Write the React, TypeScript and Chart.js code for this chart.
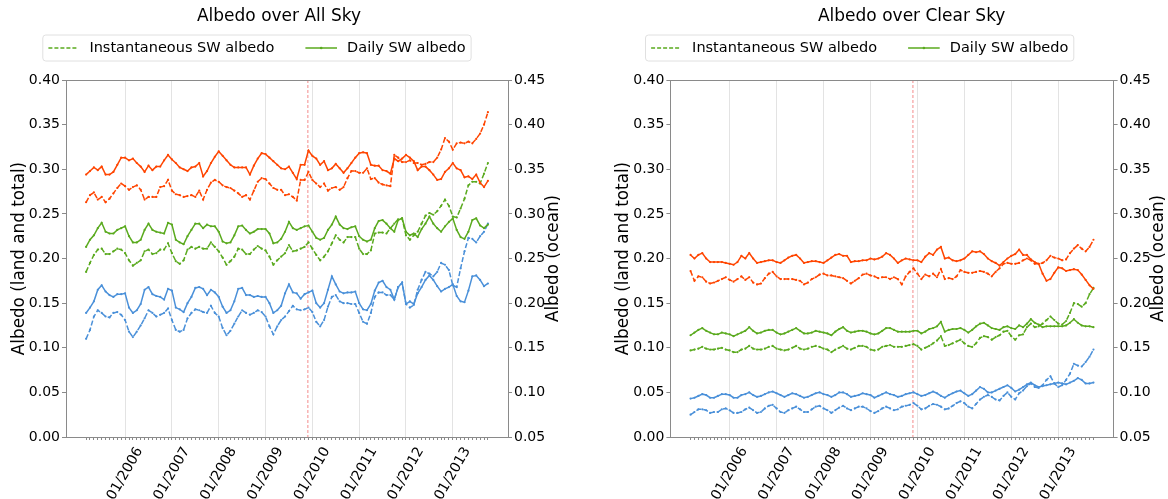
import React, { useEffect, useRef } from 'react';
import { Chart, registerables } from 'chart.js';

Chart.register(...registerables);

// ---------- DATA ----------
// Monthly samples, 03/2005 .. 10/2013
const START_YEAR = 2005;
const START_MONTH = 3;
const N_MONTHS = 104;
const months: string[] = [];
for (let k = 0; k < N_MONTHS; k++) {
  const m0 = START_MONTH - 1 + k;
  months.push(`${String((m0 % 12) + 1).padStart(2, '0')}/${START_YEAR + Math.floor(m0 / 12)}`);
}

const xTickLabels = ['01/2006', '01/2007', '01/2008', '01/2009', '01/2010', '01/2011', '01/2012', '01/2013'];
const leftTicks = [0, 0.05, 0.1, 0.15, 0.2, 0.25, 0.3, 0.35, 0.4];
const rightTicks = [0.05, 0.1, 0.15, 0.2, 0.25, 0.3, 0.35, 0.4, 0.45];
const referenceLine = 56.85; // month position (between 11/2009 and 12/2009)

const legendLabels = ['Instantaneous SW albedo', 'Daily SW albedo'];
const panelTitles = ['Albedo over All Sky', 'Albedo over Clear Sky'];
const leftAxisTitle = 'Albedo (land and total)';
const rightAxisTitle = 'Albedo (ocean)';

// All sky
const allSkyRedDaily = [
  0.294, 0.298, 0.302, 0.299, 0.303, 0.294, 0.294, 0.297, 0.305, 0.313,
  0.313, 0.310, 0.312, 0.307, 0.303, 0.297, 0.304, 0.299, 0.303, 0.303,
  0.310, 0.316, 0.311, 0.307, 0.302, 0.300, 0.298, 0.302, 0.303, 0.307,
  0.292, 0.298, 0.307, 0.314, 0.320, 0.315, 0.310, 0.305, 0.302, 0.302,
  0.302, 0.302, 0.294, 0.304, 0.312, 0.318, 0.317, 0.313, 0.309, 0.305,
  0.301, 0.300, 0.303, 0.296, 0.289, 0.305, 0.305, 0.321, 0.315, 0.312,
  0.305, 0.309, 0.299, 0.301, 0.306, 0.301, 0.296, 0.301, 0.307, 0.313,
  0.318, 0.319, 0.318, 0.305, 0.304, 0.304, 0.299, 0.298, 0.295, 0.312,
  0.309, 0.312, 0.316, 0.313, 0.309, 0.299, 0.303, 0.303, 0.299, 0.294,
  0.288, 0.289, 0.297, 0.301, 0.307, 0.301, 0.299, 0.291, 0.292, 0.289,
  0.294, 0.285, 0.280, 0.287,
];
const allSkyRedInst = [
  0.263, 0.271, 0.274, 0.266, 0.269, 0.263, 0.267, 0.273, 0.279, 0.284,
  0.281, 0.277, 0.280, 0.282, 0.277, 0.266, 0.269, 0.269, 0.269, 0.280,
  0.281, 0.288, 0.276, 0.272, 0.271, 0.269, 0.270, 0.271, 0.269, 0.276,
  0.266, 0.277, 0.285, 0.288, 0.286, 0.282, 0.280, 0.279, 0.276, 0.273,
  0.269, 0.271, 0.266, 0.276, 0.286, 0.290, 0.289, 0.284, 0.279, 0.277,
  0.277, 0.271, 0.272, 0.269, 0.265, 0.288, 0.288, 0.297, 0.288, 0.284,
  0.280, 0.284, 0.276, 0.279, 0.280, 0.277, 0.280, 0.290, 0.298, 0.298,
  0.296, 0.296, 0.301, 0.289, 0.290, 0.285, 0.283, 0.282, 0.281, 0.316,
  0.313, 0.308, 0.308, 0.310, 0.307, 0.307, 0.305, 0.306, 0.308, 0.308,
  0.313, 0.322, 0.335, 0.331, 0.322, 0.329, 0.330, 0.329, 0.331, 0.329,
  0.334, 0.340, 0.350, 0.364,
];
const allSkyGreenDaily = [
  0.213, 0.221, 0.226, 0.234, 0.240, 0.230, 0.228, 0.228, 0.232, 0.234,
  0.236, 0.225, 0.218, 0.218, 0.221, 0.232, 0.239, 0.232, 0.230, 0.229,
  0.228, 0.240, 0.238, 0.221, 0.218, 0.216, 0.225, 0.232, 0.239, 0.239,
  0.234, 0.238, 0.236, 0.236, 0.230, 0.219, 0.217, 0.218, 0.226, 0.236,
  0.237, 0.232, 0.228, 0.230, 0.233, 0.233, 0.233, 0.228, 0.217, 0.218,
  0.222, 0.230, 0.241, 0.234, 0.232, 0.234, 0.236, 0.237, 0.230, 0.223,
  0.221, 0.223, 0.232, 0.238, 0.247, 0.238, 0.234, 0.233, 0.235, 0.236,
  0.225, 0.221, 0.219, 0.221, 0.234, 0.242, 0.243, 0.239, 0.234, 0.230,
  0.243, 0.245, 0.230, 0.226, 0.228, 0.224, 0.233, 0.239, 0.247, 0.239,
  0.234, 0.230, 0.236, 0.241, 0.245, 0.232, 0.224, 0.222, 0.230, 0.243,
  0.245, 0.237, 0.234, 0.238,
];
const allSkyGreenInst = [
  0.185, 0.195, 0.204, 0.210, 0.211, 0.205, 0.205, 0.208, 0.211, 0.210,
  0.206, 0.198, 0.192, 0.195, 0.198, 0.208, 0.210, 0.205, 0.206, 0.210,
  0.210, 0.217, 0.206, 0.197, 0.194, 0.198, 0.210, 0.213, 0.211, 0.213,
  0.211, 0.211, 0.218, 0.213, 0.208, 0.201, 0.193, 0.197, 0.202, 0.211,
  0.210, 0.205, 0.205, 0.210, 0.214, 0.211, 0.209, 0.202, 0.193, 0.198,
  0.202, 0.206, 0.215, 0.208, 0.209, 0.211, 0.213, 0.218, 0.211, 0.204,
  0.198, 0.202, 0.208, 0.217, 0.226, 0.221, 0.218, 0.224, 0.224, 0.224,
  0.211, 0.205, 0.205, 0.209, 0.228, 0.229, 0.229, 0.228, 0.234, 0.239,
  0.244, 0.245, 0.226, 0.221, 0.226, 0.230, 0.239, 0.248, 0.251, 0.249,
  0.253, 0.259, 0.266, 0.259, 0.247, 0.246, 0.256, 0.267, 0.282, 0.286,
  0.286, 0.284, 0.295, 0.307,
];
const allSkyBlueDaily = [
  0.139, 0.145, 0.152, 0.165, 0.170, 0.163, 0.159, 0.157, 0.160, 0.160,
  0.161, 0.145, 0.139, 0.142, 0.149, 0.165, 0.168, 0.160, 0.158, 0.157,
  0.154, 0.166, 0.164, 0.145, 0.143, 0.140, 0.150, 0.157, 0.167, 0.168,
  0.166, 0.159, 0.165, 0.162, 0.157, 0.146, 0.139, 0.142, 0.152, 0.166,
  0.167, 0.159, 0.159, 0.157, 0.158, 0.157, 0.157, 0.150, 0.139, 0.142,
  0.147, 0.161, 0.171, 0.162, 0.161, 0.155, 0.160, 0.162, 0.164, 0.150,
  0.145, 0.150, 0.165, 0.180, 0.171, 0.163, 0.161, 0.162, 0.162, 0.163,
  0.150, 0.143, 0.142, 0.149, 0.164, 0.173, 0.175, 0.168, 0.165, 0.154,
  0.168, 0.173, 0.149, 0.152, 0.149, 0.161, 0.168, 0.176, 0.181, 0.176,
  0.169, 0.163, 0.166, 0.168, 0.171, 0.158, 0.152, 0.151, 0.164, 0.180,
  0.181, 0.176, 0.169, 0.172,
];
const allSkyBlueInst = [
  0.110, 0.120, 0.135, 0.142, 0.139, 0.135, 0.134, 0.139, 0.140, 0.137,
  0.131, 0.118, 0.112, 0.118, 0.125, 0.133, 0.142, 0.139, 0.135, 0.137,
  0.139, 0.144, 0.131, 0.120, 0.118, 0.120, 0.133, 0.139, 0.143, 0.142,
  0.140, 0.139, 0.147, 0.139, 0.135, 0.122, 0.114, 0.119, 0.127, 0.135,
  0.142, 0.139, 0.137, 0.139, 0.142, 0.140, 0.135, 0.124, 0.115, 0.124,
  0.131, 0.135, 0.141, 0.147, 0.143, 0.142, 0.143, 0.145, 0.140, 0.129,
  0.124, 0.131, 0.146, 0.157, 0.159, 0.152, 0.150, 0.150, 0.149, 0.149,
  0.139, 0.129, 0.127, 0.139, 0.157, 0.162, 0.162, 0.159, 0.159, 0.154,
  0.168, 0.173, 0.149, 0.145, 0.148, 0.165, 0.176, 0.185, 0.183, 0.180,
  0.185, 0.195, 0.193, 0.187, 0.170, 0.168, 0.189, 0.208, 0.223, 0.222,
  0.218, 0.225, 0.230, 0.239,
];

// Clear sky
const clearSkyRedDaily = [
  0.204, 0.200, 0.204, 0.206, 0.200, 0.196, 0.196, 0.196, 0.196, 0.195,
  0.194, 0.193, 0.196, 0.203, 0.200, 0.206, 0.200, 0.195, 0.196, 0.197,
  0.198, 0.198, 0.196, 0.195, 0.198, 0.201, 0.203, 0.204, 0.200, 0.195,
  0.196, 0.197, 0.197, 0.196, 0.195, 0.198, 0.201, 0.204, 0.205, 0.203,
  0.203, 0.196, 0.197, 0.197, 0.198, 0.198, 0.200, 0.199, 0.200, 0.202,
  0.206, 0.204, 0.200, 0.195, 0.198, 0.200, 0.199, 0.198, 0.198, 0.196,
  0.202, 0.206, 0.204, 0.210, 0.213, 0.200, 0.201, 0.198, 0.197, 0.198,
  0.200, 0.204, 0.208, 0.207, 0.208, 0.205, 0.200, 0.197, 0.195, 0.192,
  0.196, 0.200, 0.203, 0.205, 0.210, 0.204, 0.204, 0.199, 0.196, 0.194,
  0.183, 0.175, 0.177, 0.184, 0.190, 0.189, 0.186, 0.187, 0.188, 0.187,
  0.182, 0.176, 0.170, 0.166,
];
const clearSkyRedInst = [
  0.186, 0.175, 0.180, 0.179, 0.174, 0.172, 0.173, 0.175, 0.177, 0.179,
  0.176, 0.174, 0.177, 0.180, 0.176, 0.179, 0.173, 0.171, 0.172, 0.178,
  0.183, 0.185, 0.180, 0.177, 0.177, 0.177, 0.177, 0.176, 0.175, 0.171,
  0.173, 0.177, 0.179, 0.182, 0.183, 0.181, 0.181, 0.180, 0.179, 0.178,
  0.175, 0.172, 0.175, 0.178, 0.182, 0.183, 0.181, 0.180, 0.178, 0.179,
  0.179, 0.177, 0.179, 0.177, 0.171, 0.180, 0.185, 0.189, 0.183, 0.177,
  0.182, 0.180, 0.183, 0.179, 0.188, 0.177, 0.178, 0.177, 0.180, 0.187,
  0.185, 0.184, 0.184, 0.185, 0.186, 0.185, 0.183, 0.180, 0.185, 0.189,
  0.194, 0.195, 0.194, 0.194, 0.195, 0.198, 0.200, 0.198, 0.194, 0.194,
  0.195, 0.198, 0.203, 0.201, 0.200, 0.198, 0.199, 0.206, 0.211, 0.215,
  0.211, 0.208, 0.213, 0.221,
];
const clearSkyGreenDaily = [
  0.114, 0.117, 0.120, 0.122, 0.119, 0.117, 0.115, 0.115, 0.117, 0.116,
  0.115, 0.113, 0.115, 0.117, 0.119, 0.123, 0.119, 0.116, 0.117, 0.119,
  0.120, 0.120, 0.117, 0.115, 0.116, 0.118, 0.120, 0.122, 0.119, 0.116,
  0.116, 0.117, 0.119, 0.118, 0.117, 0.116, 0.114, 0.118, 0.121, 0.123,
  0.119, 0.117, 0.118, 0.119, 0.119, 0.118, 0.116, 0.115, 0.116, 0.119,
  0.122, 0.122, 0.120, 0.118, 0.118, 0.118, 0.118, 0.119, 0.119, 0.116,
  0.118, 0.121, 0.122, 0.124, 0.129, 0.118, 0.120, 0.121, 0.121, 0.122,
  0.120, 0.117, 0.120, 0.124, 0.127, 0.128, 0.125, 0.122, 0.121, 0.120,
  0.123, 0.124, 0.122, 0.121, 0.125, 0.123, 0.127, 0.132, 0.128, 0.126,
  0.123, 0.124, 0.124, 0.124, 0.124, 0.124, 0.125, 0.128, 0.132, 0.128,
  0.125, 0.124, 0.124, 0.123,
];
const clearSkyGreenInst = [
  0.097, 0.098, 0.099, 0.101, 0.099, 0.098, 0.098, 0.099, 0.100, 0.098,
  0.097, 0.095, 0.095, 0.098, 0.099, 0.102, 0.099, 0.098, 0.098, 0.099,
  0.101, 0.102, 0.099, 0.098, 0.097, 0.098, 0.100, 0.102, 0.099, 0.098,
  0.099, 0.101, 0.102, 0.101, 0.099, 0.098, 0.095, 0.098, 0.100, 0.102,
  0.099, 0.098, 0.100, 0.102, 0.102, 0.101, 0.098, 0.097, 0.098, 0.101,
  0.102, 0.103, 0.101, 0.101, 0.101, 0.102, 0.103, 0.104, 0.102, 0.098,
  0.100, 0.102, 0.105, 0.108, 0.113, 0.102, 0.103, 0.105, 0.107, 0.109,
  0.105, 0.102, 0.101, 0.105, 0.111, 0.113, 0.112, 0.109, 0.112, 0.114,
  0.118, 0.119, 0.113, 0.109, 0.114, 0.115, 0.123, 0.127, 0.123, 0.124,
  0.127, 0.131, 0.135, 0.131, 0.127, 0.126, 0.130, 0.139, 0.150, 0.149,
  0.146, 0.150, 0.160, 0.167,
];
const clearSkyBlueDaily = [
  0.043, 0.044, 0.046, 0.048, 0.047, 0.044, 0.044, 0.046, 0.048, 0.048,
  0.047, 0.044, 0.044, 0.047, 0.048, 0.050, 0.047, 0.045, 0.046, 0.048,
  0.050, 0.051, 0.049, 0.047, 0.045, 0.047, 0.049, 0.048, 0.046, 0.044,
  0.045, 0.047, 0.049, 0.050, 0.048, 0.047, 0.045, 0.047, 0.050, 0.050,
  0.048, 0.045, 0.046, 0.047, 0.049, 0.048, 0.047, 0.044, 0.046, 0.048,
  0.050, 0.048, 0.047, 0.045, 0.046, 0.048, 0.049, 0.050, 0.048, 0.046,
  0.047, 0.049, 0.051, 0.049, 0.046, 0.044, 0.047, 0.049, 0.051, 0.052,
  0.049, 0.046, 0.048, 0.052, 0.056, 0.054, 0.050, 0.050, 0.052, 0.054,
  0.056, 0.058, 0.055, 0.051, 0.053, 0.056, 0.059, 0.061, 0.058, 0.056,
  0.057, 0.058, 0.059, 0.060, 0.061, 0.060, 0.059, 0.061, 0.063, 0.066,
  0.064, 0.060, 0.060, 0.061,
];
const clearSkyBlueInst = [
  0.025, 0.028, 0.031, 0.031, 0.030, 0.027, 0.028, 0.028, 0.031, 0.032,
  0.030, 0.027, 0.027, 0.028, 0.031, 0.033, 0.030, 0.027, 0.028, 0.032,
  0.035, 0.036, 0.032, 0.028, 0.027, 0.030, 0.032, 0.034, 0.031, 0.028,
  0.028, 0.031, 0.034, 0.035, 0.032, 0.030, 0.027, 0.030, 0.033, 0.035,
  0.032, 0.030, 0.032, 0.034, 0.034, 0.032, 0.029, 0.027, 0.029, 0.032,
  0.034, 0.032, 0.030, 0.031, 0.034, 0.035, 0.036, 0.038, 0.035, 0.031,
  0.032, 0.035, 0.037, 0.036, 0.034, 0.031, 0.032, 0.035, 0.038, 0.040,
  0.038, 0.034, 0.032, 0.037, 0.042, 0.045, 0.047, 0.045, 0.042, 0.041,
  0.046, 0.050, 0.045, 0.042, 0.049, 0.052, 0.057, 0.060, 0.056, 0.055,
  0.058, 0.064, 0.068, 0.060, 0.056, 0.058, 0.064, 0.071, 0.082, 0.080,
  0.079, 0.084, 0.090, 0.098,
];

// ---------- STYLE / LAYOUT ----------
const RED = '#ff4500';
const GREEN = '#5aaa1e';
const BLUE = '#4a90d9';
const FONT = '"DejaVu Sans", "Liberation Sans", sans-serif';
const SPINE = '#8a8a8a';
const DASH = [5, 2.2];
const CANVAS_W = 584;
const CANVAS_H = 499;
const PLOT_TOP = 80;
const PLOT_BOTTOM = 437;

type PanelLayout = { plotLeft: number; plotRight: number; titleX: number; legendLeft: number };
const layouts: PanelLayout[] = [
  { plotLeft: 66, plotRight: 508, titleX: 279, legendLeft: 42.8 },
  { plotLeft: 86.4, plotRight: 529.6, titleX: 327.7, legendLeft: 61.5 },
];

type Series = { values: number[]; color: string; dashed: boolean };
const panelSeries: Series[][] = [
  [
    { values: allSkyRedInst, color: RED, dashed: true },
    { values: allSkyRedDaily, color: RED, dashed: false },
    { values: allSkyGreenInst, color: GREEN, dashed: true },
    { values: allSkyGreenDaily, color: GREEN, dashed: false },
    { values: allSkyBlueInst, color: BLUE, dashed: true },
    { values: allSkyBlueDaily, color: BLUE, dashed: false },
  ],
  [
    { values: clearSkyRedInst, color: RED, dashed: true },
    { values: clearSkyRedDaily, color: RED, dashed: false },
    { values: clearSkyGreenInst, color: GREEN, dashed: true },
    { values: clearSkyGreenDaily, color: GREEN, dashed: false },
    { values: clearSkyBlueInst, color: BLUE, dashed: true },
    { values: clearSkyBlueDaily, color: BLUE, dashed: false },
  ],
];

const isJan = (v: number) => {
  const lab = months[Math.round(v)];
  return !!lab && lab.startsWith('01/') && Math.abs(v - Math.round(v)) < 1e-6;
};

function buildChart(canvas: HTMLCanvasElement, idx: number) {
  const L = layouts[idx];
  const title = panelTitles[idx];
  const span = months.length - 1;
  const xMin = -0.05 * span;
  const xMax = span + 0.05 * span;

  const overlay = {
    id: 'overlay' + idx,
    beforeDatasetsDraw(chart: any) {
      const { ctx, chartArea: ca, scales } = chart;
      const x = scales.x.getPixelForValue(referenceLine);
      ctx.save();
      ctx.strokeStyle = 'rgba(240,110,110,0.8)';
      ctx.lineWidth = 1;
      ctx.setLineDash([3, 2]);
      ctx.beginPath();
      ctx.moveTo(x, ca.top);
      ctx.lineTo(x, ca.bottom);
      ctx.stroke();
      ctx.restore();
    },
    afterDraw(chart: any) {
      const { ctx, chartArea: ca, scales } = chart;
      ctx.save();
      // top spine
      ctx.strokeStyle = SPINE;
      ctx.lineWidth = 1;
      ctx.beginPath();
      ctx.moveTo(ca.left, Math.round(ca.top) + 0.5);
      ctx.lineTo(ca.right, Math.round(ca.top) + 0.5);
      ctx.stroke();

      // title
      ctx.fillStyle = '#000';
      ctx.font = `17px ${FONT}`;
      ctx.textAlign = 'center';
      ctx.textBaseline = 'middle';
      ctx.fillText(title, L.titleX, 17);

      // legend box
      const bx = L.legendLeft, by = 35, bw = 428.3, bh = 26, r = 3;
      ctx.beginPath();
      ctx.moveTo(bx + r, by);
      ctx.lineTo(bx + bw - r, by);
      ctx.quadraticCurveTo(bx + bw, by, bx + bw, by + r);
      ctx.lineTo(bx + bw, by + bh - r);
      ctx.quadraticCurveTo(bx + bw, by + bh, bx + bw - r, by + bh);
      ctx.lineTo(bx + r, by + bh);
      ctx.quadraticCurveTo(bx, by + bh, bx, by + bh - r);
      ctx.lineTo(bx, by + r);
      ctx.quadraticCurveTo(bx, by, bx + r, by);
      ctx.closePath();
      ctx.fillStyle = 'rgba(255,255,255,0.85)';
      ctx.fill();
      ctx.strokeStyle = '#e0e0e0';
      ctx.lineWidth = 1;
      ctx.stroke();

      const ly = 48;
      ctx.strokeStyle = GREEN;
      ctx.lineWidth = 1.5;
      ctx.setLineDash([4, 2]);
      ctx.beginPath();
      ctx.moveTo(bx + 5.6, ly);
      ctx.lineTo(bx + 35.4, ly);
      ctx.stroke();
      ctx.setLineDash([]);
      ctx.beginPath();
      ctx.moveTo(bx + 262.6, ly);
      ctx.lineTo(bx + 294.2, ly);
      ctx.stroke();
      ctx.fillStyle = GREEN;
      ctx.beginPath();
      ctx.arc(bx + 278.4, ly, 1.3, 0, Math.PI * 2);
      ctx.fill();

      ctx.fillStyle = '#000';
      ctx.font = `14.5px ${FONT}`;
      ctx.textAlign = 'left';
      ctx.textBaseline = 'middle';
      ctx.fillText(legendLabels[0], bx + 46.6, ly);
      ctx.fillText(legendLabels[1], bx + 304.3, ly);

      // axis titles
      const cy = (ca.top + ca.bottom) / 2;
      ctx.font = `16.8px ${FONT}`;
      ctx.textAlign = 'center';
      ctx.textBaseline = 'middle';
      ctx.save();
      ctx.translate(ca.left - 46.5, cy);
      ctx.rotate(-Math.PI / 2);
      ctx.fillText(leftAxisTitle, 0, 0);
      ctx.restore();
      ctx.save();
      ctx.translate(ca.right + 45.5, cy);
      ctx.rotate(-Math.PI / 2);
      ctx.fillText(rightAxisTitle, 0, 0);
      ctx.restore();

      // rotated x tick labels (centred under each January tick)
      ctx.font = `14px ${FONT}`;
      const ang = (60 * Math.PI) / 180;
      xTickLabels.forEach((lab) => {
        const i = months.indexOf(lab);
        if (i < 0) return;
        const x = scales.x.getPixelForValue(i);
        const w = ctx.measureText(lab).width;
        const h = 14;
        const H = w * Math.sin(ang) + h * Math.cos(ang);
        ctx.save();
        ctx.translate(x, ca.bottom + 8 + H / 2);
        ctx.rotate(-ang);
        ctx.textAlign = 'center';
        ctx.textBaseline = 'middle';
        ctx.fillText(lab, 0, 0);
        ctx.restore();
      });
      ctx.restore();
    },
  };

  const datasets = panelSeries[idx].map((s, k) => ({
    label: s.dashed ? legendLabels[0] : legendLabels[1],
    data: s.values.map((v, i) => ({ x: i, y: v })),
    borderColor: s.color,
    backgroundColor: s.color,
    borderWidth: 1.5,
    borderDash: s.dashed ? DASH : [],
    pointRadius: 1.1,
    pointBorderWidth: 0,
    pointBackgroundColor: s.color,
    tension: 0,
    yAxisID: 'y',
    order: k,
  }));

  const yTickFont = { size: 14, family: FONT };

  return new Chart(canvas, {
    type: 'line',
    data: { datasets } as any,
    plugins: [overlay as any],
    options: {
      animation: false,
      responsive: false,
      maintainAspectRatio: false,
      devicePixelRatio: 1,
      layout: { padding: { top: PLOT_TOP, left: 0, right: 0, bottom: 0 } },
      plugins: {
        legend: { display: false },
        title: { display: false },
        tooltip: { enabled: false },
      },
      scales: {
        x: {
          type: 'linear',
          min: xMin,
          max: xMax,
          afterBuildTicks: (s: any) => {
            s.ticks = months.map((_, i) => ({ value: i }));
          },
          afterFit: (s: any) => {
            s.height = CANVAS_H - PLOT_BOTTOM;
          },
          grid: {
            color: (c: any) => (c.tick && isJan(c.tick.value) ? '#e3e3e3' : 'rgba(0,0,0,0)'),
            tickColor: SPINE,
            tickLength: 3,
            lineWidth: 1,
          },
          border: { color: SPINE, width: 1 },
          ticks: { autoSkip: false, maxRotation: 0, minRotation: 0, callback: () => '', font: yTickFont },
        },
        y: {
          type: 'linear',
          position: 'left',
          min: 0,
          max: 0.4,
          afterBuildTicks: (s: any) => {
            s.ticks = leftTicks.map((v) => ({ value: v }));
          },
          afterFit: (s: any) => {
            s.width = L.plotLeft;
          },
          grid: { drawOnChartArea: false, tickLength: 4, tickColor: SPINE },
          border: { color: SPINE, width: 1 },
          ticks: { color: '#000', font: yTickFont, padding: 2, callback: (v: any) => Number(v).toFixed(2) },
        },
        y2: {
          type: 'linear',
          position: 'right',
          min: 0.05,
          max: 0.45,
          afterBuildTicks: (s: any) => {
            s.ticks = rightTicks.map((v) => ({ value: v }));
          },
          afterFit: (s: any) => {
            s.width = CANVAS_W - L.plotRight;
          },
          grid: { drawOnChartArea: false, tickLength: 4, tickColor: SPINE },
          border: { color: SPINE, width: 1 },
          ticks: { color: '#000', font: yTickFont, padding: 2, callback: (v: any) => Number(v).toFixed(2) },
        },
      },
    } as any,
  });
}

function Panel({ idx }: { idx: number }) {
  const ref = useRef<HTMLCanvasElement>(null);
  useEffect(() => {
    if (!ref.current) return;
    const chart = buildChart(ref.current, idx);
    return () => chart.destroy();
  }, [idx]);
  return (
    <canvas
      ref={ref}
      width={CANVAS_W}
      height={CANVAS_H}
      style={{ position: 'absolute', left: idx * CANVAS_W, top: 0, width: CANVAS_W, height: CANVAS_H }}
    />
  );
}

export default function App() {
  return (
    <div
      style={{
        position: 'absolute',
        left: 0,
        top: 0,
        width: CANVAS_W * 2,
        height: CANVAS_H,
        background: '#fff',
        overflow: 'hidden',
      }}
    >
      <Panel idx={0} />
      <Panel idx={1} />
    </div>
  );
}
